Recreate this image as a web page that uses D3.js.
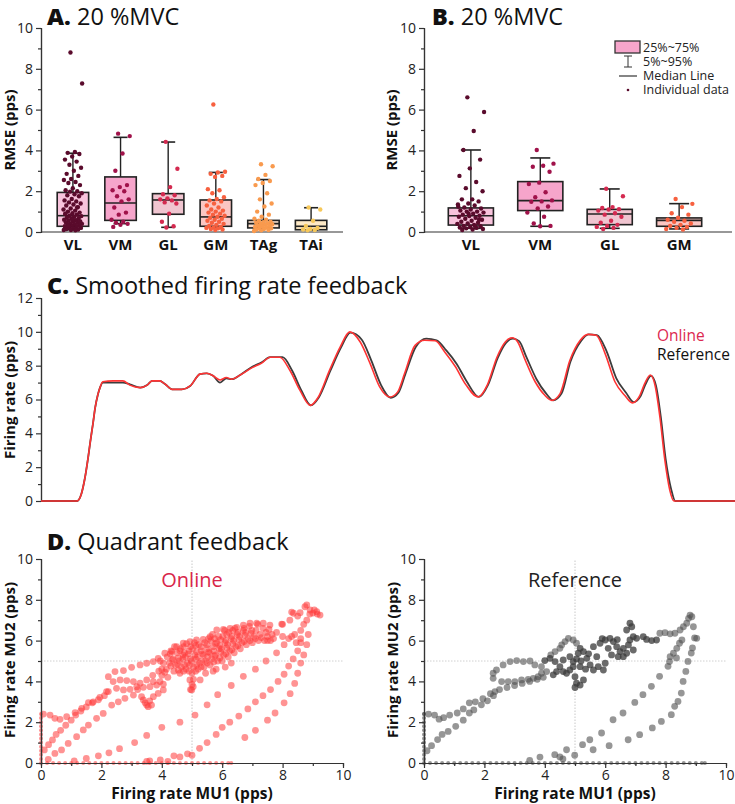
<!DOCTYPE html>
<html><head><meta charset="utf-8">
<script src="https://cdn.jsdelivr.net/npm/d3@7"></script>
<style>
body{margin:0;background:#fff;}
svg text{font-family:"Open Sans",Lato,sans-serif;}
</style></head><body><svg id="c" width="735" height="804"></svg>
<script>
// ---------------- DATA ----------------
const catsA = ["VL","VM","GL","GM","TAg","TAi"];
const lowA  = [0.11,0.41,0.23,0.18,0.2,0.11];
const q1A   = [0.28,0.57,0.87,0.28,0.2,0.11];
const medA  = [0.8,1.42,1.57,0.74,0.41,0.28];
const q3A   = [1.94,2.7,1.88,1.57,0.57,0.57];
const highA = [3.86,4.64,4.41,2.92,2.57,1.19];

const ptsA_VL = [8.8,7.28,3.92,3.88,3.82,3.7,3.55,3.45,3.3,3.15,3.0,2.85,2.75,2.6,2.55,2.45,2.4,2.3,2.15,2.05,2.0,1.98,1.9,1.85,1.8,1.75,1.62,1.55,1.5,1.45,1.4,1.35,1.3,1.22,1.15,1.1,1.05,1.0,0.95,0.92,0.88,0.85,0.8,0.78,0.75,0.7,0.68,0.65,0.6,0.58,0.55,0.52,0.5,0.48,0.45,0.42,0.4,0.38,0.35,0.32,0.3,0.28,0.25,0.22,0.2,0.18,0.15,0.12,0.1,0.1,0.08,0.3,0.5,0.6,0.9,1.2];
const ptsA_VM = [4.82,4.7,3.85,3.0,2.3,2.2,2.05,2.0,1.75,1.6,1.5,1.2,0.95,0.85,0.6,0.5,0.45,0.4,0.35,0.25];
const ptsA_GL = [4.42,3.1,2.2,1.85,1.8,1.65,1.6,1.55,1.45,1.4,0.9,0.5,0.28,0.22];
const ptsA_GM = [6.25,2.95,2.92,2.85,2.75,2.7,2.1,2.05,1.9,1.7,1.62,1.55,1.5,1.4,1.3,1.2,1.1,1.05,1.0,0.95,0.9,0.85,0.8,0.75,0.7,0.65,0.6,0.55,0.5,0.45,0.4,0.35,0.3,0.25,0.22,0.2,0.18,0.15,0.12,0.1];
const ptsA_TAg = [3.32,3.22,2.8,2.6,2.5,2.4,2.3,1.9,1.6,1.4,1.25,1.0,0.85,0.75,0.65,0.6,0.55,0.5,0.48,0.45,0.42,0.4,0.38,0.35,0.32,0.3,0.28,0.25,0.22,0.2,0.18,0.15,0.12,0.1,0.08,0.05];
const ptsA_TAi = [1.2,1.1,0.55,0.3,0.2,0.15,0.12,0.1,0.08];

const catsB = ["VL","VM","GL","GM"];
const lowB  = [0.18,0.28,0.18,0.15];
const q1B   = [0.34,1.05,0.36,0.28];
const medB  = [0.8,1.54,0.88,0.57];
const q3B   = [1.18,2.47,1.11,0.69];
const highB = [4.02,3.63,2.11,1.39];

const ptsB_VL = [6.6,5.88,4.95,4.02,3.55,3.12,2.75,2.45,2.15,2.0,1.6,1.6,1.5,1.4,1.35,1.3,1.2,1.15,1.1,1.05,1.0,1.0,0.95,0.9,0.85,0.8,0.78,0.75,0.7,0.65,0.6,0.55,0.5,0.45,0.42,0.4,0.35,0.3,0.28,0.25,0.22,0.2,0.18,0.15,0.12,0.1,0.6,0.9,1.25,0.3];
const ptsB_VM = [4.02,3.35,3.25,3.2,2.95,2.42,2.35,1.95,1.7,1.55,1.5,1.48,1.25,1.15,0.95,0.75,0.42,0.3,0.28];
const ptsB_GL = [2.12,1.75,1.22,1.18,1.12,1.1,1.05,0.92,0.85,0.75,0.55,0.45,0.35,0.3,0.25,0.2,0.15];
const ptsB_GM = [1.62,1.38,1.22,0.92,0.85,0.7,0.6,0.55,0.5,0.42,0.35,0.3,0.25,0.2,0.15,0.12];

const legendLabels = ["25%~75%","5%~95%","Median Line","Individual data"];

// Panel C: time (s) and smoothed firing rate (pps)
const timeOnline = [0,5.2,5.8,6.3,6.8,7.1,7.5,7.8,8.2,8.5,8.9,10.4,11.8,12.8,14.3,15.3,16.0,17.1,17.9,18.9,20.3,21.5,22.9,23.9,24.8,25.8,26.7,27.5,28.7,30.5,31.8,33.0,34.4,35.9,37.3,38.8,39.9,41.6,43.1,44.5,46.0,47.4,48.8,50.3,51.4,52.4,53.9,55.3,56.8,58.2,59.7,61.1,63.0,64.3,65.7,66.9,67.9,68.7,69.7,71.2,72.6,73.6,74.8,76.2,77.7,78.8,80.0,81.3,82.7,84.1,85.2,86.3,87.0,87.8,88.5,89.2,89.9,90.6,91.2,100];
const rateOnline = [0,0,0.4,1.3,2.6,3.5,4.6,5.5,6.3,6.7,7.05,7.1,7.1,6.85,6.7,6.85,7.1,7.1,6.9,6.6,6.6,6.8,7.5,7.55,7.4,7.15,7.3,7.2,7.45,7.9,8.15,8.5,8.5,7.7,6.55,5.65,6.1,7.75,9.1,10.0,9.4,8.15,6.75,6.15,6.45,7.55,9.2,9.5,9.47,8.8,7.95,6.95,6.15,6.85,8.5,9.4,9.65,9.4,8.4,7.05,6.25,5.95,6.35,8.3,9.5,9.85,9.8,8.7,7.05,6.25,5.8,6.25,6.95,7.45,6.8,4.9,2.4,0.65,0,0];
const timeRef = [0,5.2,5.8,6.3,6.8,7.1,7.5,7.8,8.2,8.5,8.9,10.4,11.8,12.8,14.3,15.3,16.0,17.1,17.9,18.9,20.3,21.5,22.9,23.9,24.8,25.8,26.7,27.5,28.7,30.5,31.8,33.0,34.8,36.2,37.5,38.9,40.0,41.7,43.2,44.6,46.2,47.6,49.0,50.4,51.5,52.5,54.0,55.5,57.0,58.4,59.9,61.3,63.1,64.4,65.8,67.0,68.0,68.9,69.9,71.4,72.8,73.8,75.0,76.3,77.8,78.9,80.1,81.5,82.9,84.3,85.4,86.4,87.1,87.9,88.6,89.3,90.0,90.8,91.4,100];
const rateRef = [0,0,0.4,1.3,2.6,3.5,4.6,5.5,6.3,6.7,7.0,7.0,7.0,6.9,6.7,6.85,7.1,7.1,6.9,6.6,6.6,6.8,7.5,7.55,7.4,7.0,7.25,7.2,7.45,7.95,8.2,8.5,8.5,7.7,6.55,5.65,6.1,7.7,9.05,9.95,9.55,8.3,6.85,6.1,6.4,7.5,9.1,9.6,9.5,8.9,8.1,7.1,6.15,6.85,8.45,9.35,9.6,9.45,8.55,7.2,6.35,5.95,6.35,8.25,9.45,9.85,9.8,8.85,7.25,6.4,5.85,6.2,6.9,7.4,6.85,5.0,2.5,0.7,0,0];

// Panel D: [MU1 rate, MU2 rate]
const onlineAxis = [[0,0],[0,0.2],[0,0.4],[0,0.6],[0,0.8],[0,1.0],[0,1.2],[0,1.4],[0,1.6],[0,1.8],[0,2.0],[0,2.2],[0,2.4],[0.2,0],[0.4,0],[0.6,0],[0.8,0],[1.0,0],[1.2,0],[1.4,0],[1.6,0],[1.8,0],[2.0,0],[2.2,0],[2.4,0],[2.6,0],[2.8,0],[3.0,0],[3.2,0],[3.4,0],[3.6,0],[3.8,0],[4.0,0],[4.2,0],[4.4,0],[4.6,0],[4.8,0],[5.0,0],[5.2,0],[5.4,0],[5.6,0],[5.8,0],[6.0,0],[6.2,0],[6.3,0]];
const onlineUpper = [[0.08,2.4],[0.3,2.35],[0.46,2.19],[0.63,2.14],[0.85,2.27],[1.13,2.47],[1.35,2.68],[1.57,2.96],[1.73,3.0],[1.95,3.22],[2.23,3.5],[2.23,4.23],[2.45,4.48],[2.73,4.53],[3.0,4.69],[3.28,4.81],[3.5,4.89],[3.72,4.97],[3.88,5.13],[4.1,5.38],[4.33,5.46],[4.49,5.7],[4.71,5.87],[4.93,5.95],[5.15,6.03],[5.37,6.06],[5.6,6.19],[5.82,6.52],[6.04,6.55],[6.26,6.6],[6.48,6.65],[6.7,6.76],[6.92,6.85],[7.14,6.85],[7.36,6.85],[7.58,6.76],[7.97,6.81],[8.24,7.0],[8.36,7.34],[8.58,7.37],[8.74,7.66],[8.91,7.5],[9.13,7.42],[9.24,7.25],[8.8,7.75],[9.0,7.35]];
const onlineLower = [[2.39,3.99],[2.62,4.07],[2.84,4.04],[3.06,3.99],[3.28,3.91],[3.5,4.07],[3.72,3.99],[3.94,3.99],[2.5,3.66],[2.73,3.58],[2.95,3.61],[3.17,3.74],[3.39,3.71],[3.61,3.74],[3.83,3.82],[4.05,3.86],[2.17,3.5],[3.39,3.09],[3.5,2.84],[3.55,2.76],[3.72,3.25],[3.88,3.41],[4.05,3.58],[3.33,3.25],[3.66,2.84],[3.45,2.95],[3.6,3.05]];
const onlineCore = [[4.15,4.6],[4.25,4.9],[4.18,5.2],[4.3,5.5],[4.4,4.5],[4.45,4.8],[4.38,5.1],[4.5,5.4],[4.42,5.7],[4.6,4.4],[4.65,4.7],[4.58,5.0],[4.7,5.3],[4.62,5.6],[4.8,4.6],[4.85,4.9],[4.78,5.2],[4.9,5.5],[4.82,5.85],[5.0,4.4],[5.05,4.7],[4.98,5.0],[5.1,5.3],[5.02,5.6],[5.08,5.9],[4.95,3.6],[5.0,3.85],[5.05,4.1],[5.2,4.6],[5.25,4.9],[5.18,5.2],[5.3,5.5],[5.22,5.8],[5.4,4.7],[5.45,5.0],[5.38,5.3],[5.5,5.6],[5.42,5.9],[5.6,4.8],[5.65,5.1],[5.58,5.4],[5.7,5.7],[5.62,6.0],[5.68,6.3],[5.8,4.6],[5.85,5.0],[5.78,5.3],[5.9,5.6],[5.82,5.9],[5.88,6.2],[6.0,5.0],[6.05,5.3],[5.98,5.6],[6.1,5.9],[6.02,6.2],[6.08,6.5],[6.2,5.2],[6.25,5.5],[6.18,5.8],[6.3,6.1],[6.22,6.4],[6.4,5.4],[6.45,5.7],[6.38,6.0],[6.5,6.3],[6.42,6.6],[6.6,5.6],[6.65,5.9],[6.58,6.2],[6.7,6.5],[6.8,5.8],[6.85,6.1],[6.78,6.4],[6.9,6.7],[7.0,5.9],[7.05,6.2],[6.98,6.5],[7.2,6.0],[7.25,6.3],[7.18,6.8],[7.4,6.0],[7.45,6.4],[7.6,6.0],[7.65,6.3],[4.93,4.07],[5.04,3.74],[4.99,3.58],[5.27,4.07],[4.0,4.3],[4.2,4.2],[3.9,4.5],[3.7,4.3],[5.45,4.4],[5.7,4.5],[6.1,4.7],[6.3,4.9]];
const onlineCore2 = [[4.3,4.75],[4.35,5.05],[4.28,5.35],[4.55,4.55],[4.52,4.85],[4.55,5.15],[4.6,5.5],[4.72,4.5],[4.75,4.8],[4.7,5.1],[4.75,5.4],[4.72,5.7],[4.9,4.5],[4.92,4.8],[4.95,5.1],[4.88,5.35],[4.95,5.7],[5.12,4.5],[5.15,4.8],[5.12,5.1],[5.15,5.45],[5.12,5.75],[5.3,4.7],[5.32,5.0],[5.35,5.35],[5.3,5.7],[5.5,4.9],[5.52,5.2],[5.55,5.45],[5.5,5.8],[5.55,6.1],[5.72,4.95],[5.75,5.25],[5.72,5.5],[5.78,5.85],[5.75,6.1],[5.92,5.15],[5.95,5.45],[5.92,5.75],[5.95,6.05],[6.12,5.35],[6.15,5.65],[6.12,6.0],[6.15,6.3],[6.32,5.55],[6.35,5.85],[6.32,6.2],[6.35,6.5],[6.52,5.75],[6.55,6.05],[6.52,6.4],[6.72,5.95],[6.75,6.25],[6.72,6.6],[6.92,6.0],[6.95,6.35],[7.1,6.1],[7.12,6.5],[7.3,6.15],[7.35,6.6],[7.5,6.2],[7.55,6.55],[4.0,4.6],[4.05,4.9],[3.95,5.0],[4.1,4.45]];
const onlineRight = [[7.8,6.4],[8.0,6.2],[8.2,6.1],[8.4,6.3],[8.6,6.5],[8.7,6.8],[8.8,7.0],[8.5,7.2],[8.3,7.4],[8.0,6.8],[8.9,7.3],[9.05,7.5],[9.15,7.3],[8.6,6.1],[8.45,5.9],[7.7,6.1],[7.5,6.0]];
const onlineDiag = [[0.11,0.64],[0.25,0.9],[0.38,1.13],[0.5,1.4],[0.65,1.6],[0.82,1.85],[1.0,2.1],[1.15,2.35],[1.32,2.55],[1.5,2.75],[1.7,2.95],[1.9,3.1],[2.1,3.3],[0.24,0.18],[0.46,0.47],[0.68,0.64],[0.9,0.96],[1.18,1.29],[1.4,1.62],[1.57,1.86],[1.84,2.19],[2.06,2.43],[2.34,2.84],[2.56,3.0],[2.78,3.17],[3.06,3.33],[3.2,3.6]];
const onlineCurves = [[1.1,0.1],[1.5,0.22],[1.9,0.35],[2.25,0.5],[2.6,0.7],[3.1,1.0],[3.5,1.35],[4.0,1.75],[4.6,2.0],[5.1,2.35],[5.5,2.85],[5.85,3.35],[6.3,3.8],[6.7,4.25],[7.1,4.6],[7.45,5.0],[7.8,5.4],[8.05,5.8],[8.3,6.2],[3.6,0.1],[4.4,0.35],[4.85,0.45],[5.25,0.72],[5.5,1.0],[5.8,1.4],[6.0,1.75],[6.25,2.0],[6.55,2.3],[6.85,2.65],[7.1,3.0],[7.35,3.3],[7.6,3.6],[7.85,4.0],[8.05,4.35],[8.2,4.75],[8.35,5.1],[8.5,5.5],[8.6,5.9],[6.75,1.25],[7.1,1.6],[7.5,2.1],[7.75,2.45],[8.05,2.95],[8.25,3.4],[8.4,3.9],[8.5,4.4],[8.6,4.9],[8.7,5.3],[8.8,5.8],[8.85,6.3],[3.95,0.15],[4.2,0.08],[4.6,0.3],[5.0,0.38],[3.5,0.08]];

const refAxis = [[0,0],[0,0.2],[0,0.4],[0,0.6],[0,0.8],[0,1.0],[0,1.2],[0,1.4],[0,1.6],[0,1.8],[0,2.0],[0,2.2],[0,2.4],[0.2,0],[0.4,0],[0.6,0],[0.8,0],[1.0,0],[1.2,0],[1.4,0],[1.6,0],[1.8,0],[2.0,0],[2.2,0],[2.4,0],[2.6,0],[2.8,0],[3.0,0],[3.2,0],[3.4,0],[3.6,0],[3.8,0],[4.0,0],[4.2,0],[4.4,0],[4.6,0],[4.8,0],[5.0,0],[5.2,0],[5.4,0],[5.6,0],[5.8,0],[6.0,0],[6.2,0],[6.4,0],[6.6,0],[6.8,0],[7.0,0],[7.2,0],[7.4,0],[7.6,0],[7.8,0],[8.0,0],[8.2,0],[8.4,0],[8.6,0],[8.8,0],[9.0,0],[9.2,0],[9.3,0]];
const refStart = [[0,2.4],[0.15,2.4],[0.35,2.35],[0.5,2.15],[0.65,2.22],[0.85,2.35],[1.1,2.45],[1.3,2.65],[1.5,2.95],[1.7,3.0],[1.95,3.15],[2.2,3.4],[2.35,3.5],[2.5,3.6],[2.75,3.7],[3.0,3.8],[3.25,3.9],[3.5,4.0],[3.75,4.1],[3.95,4.2],[0.1,0.6],[0.25,0.85],[0.45,1.15],[0.6,1.4],[0.8,1.55],[1.05,1.8],[1.3,2.1],[1.5,2.45],[1.65,2.6],[1.9,2.85],[2.1,3.05],[2.3,3.3]];
const refLoop = [[2.29,4.4],[2.4,4.56],[2.62,4.81],[2.85,4.97],[3.07,5.02],[3.29,4.97],[3.51,5.0],[3.67,4.81],[3.89,4.72],[4.56,5.79],[4.67,5.95],[4.78,6.11],[4.94,6.03],[5.05,5.87],[4.5,5.62],[4.34,5.46],[4.2,5.3],[2.29,4.15],[2.57,3.99],[2.79,3.99],[3.01,3.99],[3.23,4.07],[3.45,4.1],[3.62,4.15],[3.78,4.23],[3.89,4.4],[4.06,4.48]];
const refDark = [[4.0,5.02],[4.17,5.13],[4.34,4.97],[4.5,4.72],[4.61,4.48],[4.72,4.4],[4.83,4.56],[4.94,4.72],[5.11,5.38],[5.17,5.62],[5.28,5.46],[5.39,5.13],[5.5,4.81],[5.61,4.56],[5.77,4.72],[5.94,4.56],[6.0,4.89],[5.72,5.21],[5.61,5.7],[5.83,5.87],[6.0,6.03],[6.16,6.11],[6.27,5.95],[6.38,5.7],[6.49,5.46],[6.6,5.62],[6.77,5.79],[6.82,6.03],[6.93,6.19],[7.04,6.11],[7.26,6.19],[7.37,6.06],[7.54,6.0],[7.7,6.03],[6.71,6.52],[6.82,6.85],[6.88,6.68],[6.1,5.62],[6.21,5.3],[6.43,5.21],[6.6,5.21],[6.71,5.38],[6.93,5.54],[5.17,4.72],[5.0,4.23],[5.05,3.91],[5.17,3.82],[5.28,4.07],[4.94,4.97],[4.83,5.21],[4.61,5.05],[4.39,4.48],[4.28,4.32],[5.0,3.7],[5.05,5.1],[5.2,5.0],[5.35,4.6],[5.45,5.35],[5.9,6.1],[6.4,6.05]];
const refRight = [[7.81,6.36],[7.98,6.39],[8.15,6.33],[8.31,6.36],[8.48,6.52],[8.59,6.68],[8.7,6.85],[8.81,7.25],[8.87,7.17],[8.76,7.09],[8.92,6.68],[9.03,6.11],[8.54,6.03],[8.46,5.87],[8.37,5.62],[8.26,5.38],[8.15,5.21],[8.13,4.97]];
const refCurves = [[8.96,6.13],[8.89,5.64],[8.85,5.39],[8.74,4.98],[8.67,4.49],[8.58,4.0],[8.52,3.43],[8.41,3.02],[8.3,2.78],[8.19,2.37],[7.86,2.04],[7.56,1.72],[7.14,1.39],[6.76,1.14],[6.13,0.85],[5.6,0.65],[4.99,0.38],[8.36,5.15],[8.08,4.74],[7.8,4.25],[7.53,3.76],[7.25,3.35],[6.98,2.97],[6.59,2.45],[6.26,2.12],[5.88,1.47],[5.49,1.14],[5.25,0.9],[4.72,0.65],[4.33,0.41],[3.84,0.29],[3.5,0.13],[4.5,0.3],[4.6,0.2]];

// ---------------- DRAW ----------------
const svg = d3.select("#c");
const FONT = '"Open Sans",Lato,sans-serif';

function title(x, y, bold, rest){
  const t = svg.append("text").attr("x",x).attr("y",y).attr("font-size",23.5).attr("fill","#111");
  t.append("tspan").attr("font-weight",800).text(bold);
  t.append("tspan").attr("font-weight",400).text(rest);
}
function styleAxis(g){
  g.selectAll(".domain").attr("stroke","#333").attr("stroke-width",1.2);
  g.selectAll(".tick line").attr("stroke","#333").attr("stroke-width",1.2);
  g.selectAll(".tick text").attr("font-size",14).attr("fill","#222").attr("font-family",FONT);
}
function yAxisWithMinor(x, scale, maxV){
  const major = d3.range(0, maxV+1, 2), minor = d3.range(1, maxV, 2);
  const gm = svg.append("g").attr("transform",`translate(${x},0)`)
    .call(d3.axisLeft(scale).tickValues(minor).tickSize(3).tickFormat(""));
  styleAxis(gm);
  const g = svg.append("g").attr("transform",`translate(${x},0)`)
    .call(d3.axisLeft(scale).tickValues(major).tickSize(5).tickPadding(3).tickSizeOuter(0));
  styleAxis(g);
}
function rotLabel(x, y, txt){
  svg.append("text").attr("transform",`translate(${x},${y}) rotate(-90)`).attr("text-anchor","middle")
    .attr("font-size",15).attr("font-weight",700).attr("fill","#111").text(txt);
}

const boxFill = ["#f8c3dc","#f6a5cb","#f0c5d0","#fbc6c3","#fde0cc","#fde9c6"];
const ptCol   = ["#5a0b2c","#a0124a","#d42a50","#f7603f","#f99a4e","#f6c85a"];

function drawBoxes(x0, x1, axisEnd, cats, low, q1, med, q3, high, pts, pad, cap, spread, labX){
  const y = d3.scaleLinear().domain([0,10]).range([232,28]);
  const xb = d3.scaleBand().domain(cats).range([x0, x1]).padding(pad);
  yAxisWithMinor(x0, y, 10);
  svg.append("line").attr("x1",x0).attr("x2",axisEnd).attr("y1",232).attr("y2",232).attr("stroke","#333").attr("stroke-width",1.2);
  cats.forEach((c,i)=>{
    const cx = xb(c) + xb.bandwidth()/2, w = xb.bandwidth();
    const g = svg.append("g");
    g.append("line").attr("x1",cx).attr("x2",cx).attr("y1",y(low[i])).attr("y2",y(high[i])).attr("stroke","#222").attr("stroke-width",1.4);
    [low[i],high[i]].forEach(v=>g.append("line").attr("x1",cx-cap/2).attr("x2",cx+cap/2).attr("y1",y(v)).attr("y2",y(v)).attr("stroke","#222").attr("stroke-width",1.6));
    g.append("rect").attr("x",cx-w/2).attr("y",y(q3[i])).attr("width",w).attr("height",y(q1[i])-y(q3[i]))
      .attr("fill",boxFill[i]).attr("stroke","#222").attr("stroke-width",1.6);
    g.append("line").attr("x1",cx-w/2).attr("x2",cx+w/2).attr("y1",y(med[i])).attr("y2",y(med[i])).attr("stroke","#222").attr("stroke-width",1.6);
    g.append("g").selectAll("circle").data(pts[i]).join("circle")
      .attr("cx",(d,j)=>cx + ((((j*0.6180339)+0.37)%1)-0.5)*w*spread)
      .attr("cy",d=>y(d)).attr("r",2.2).attr("fill",ptCol[i]);
    svg.append("text").attr("x",cx).attr("y",250).attr("text-anchor","middle").attr("font-size",15)
      .attr("font-weight",700).attr("fill","#111").text(c);
  });
  rotLabel(labX, 130, "RMSE (pps)");
}

// Panel A
title(47, 25, "A.", " 20 %MVC");
drawBoxes(41, 343, 343, catsA, lowA, q1A, medA, q3A, highA, [ptsA_VL,ptsA_VM,ptsA_GL,ptsA_GM,ptsA_TAg,ptsA_TAi], 0.34, 14, 0.6, 15);
// Panel B
title(432, 25, "B.", " 20 %MVC");
drawBoxes(424, 726, 732, catsB, lowB, q1B, medB, q3B, highB, [ptsB_VL,ptsB_VM,ptsB_GL,ptsB_GM], 0.35, 20, 0.6, 397);
(function(){
  const lg = svg.append("g").attr("font-size",12.5).attr("fill","#222");
  lg.append("rect").attr("x",615).attr("y",41).attr("width",25).attr("height",12).attr("fill","#f6a5cb").attr("stroke","#333").attr("stroke-width",1.3);
  lg.append("line").attr("x1",628).attr("x2",628).attr("y1",56).attr("y2",67).attr("stroke","#333");
  lg.append("line").attr("x1",624).attr("x2",632).attr("y1",56).attr("y2",56).attr("stroke","#333");
  lg.append("line").attr("x1",624).attr("x2",632).attr("y1",67).attr("y2",67).attr("stroke","#333");
  lg.append("line").attr("x1",619).attr("x2",637).attr("y1",76).attr("y2",76).attr("stroke","#333").attr("stroke-width",1.2);
  lg.append("circle").attr("cx",628).attr("cy",90).attr("r",1.3).attr("fill","#5a0b2c");
  const ly=[52,66,80,94];
  legendLabels.forEach((t,i)=>lg.append("text").attr("x",643).attr("y",ly[i]).text(t));
})();

// Panel C
title(47, 294, "C.", " Smoothed firing rate feedback");
(function(){
  const x = d3.scaleLinear().domain([0,100]).range([41,735]);
  const y = d3.scaleLinear().domain([0,12]).range([501,298]);
  yAxisWithMinor(41, y, 12);
  rotLabel(15, 400, "Firing rate (pps)");
  svg.append("path").attr("d",d3.line().x((d,i)=>x(timeRef[i])).y(d=>y(d)).curve(d3.curveMonotoneX)(rateRef))
    .attr("fill","none").attr("stroke","#3c3c3c").attr("stroke-width",1.8);
  svg.append("path").attr("d",d3.line().x((d,i)=>x(timeOnline[i])).y(d=>y(d)).curve(d3.curveMonotoneX)(rateOnline))
    .attr("fill","none").attr("stroke","#ff3434").attr("stroke-width",1.6);
  svg.append("text").attr("x",657).attr("y",341).attr("font-size",15.5).attr("fill","#dc2850").text("Online");
  svg.append("text").attr("x",657).attr("y",360).attr("font-size",15.5).attr("fill","#111").text("Reference");
})();

// Panel D
title(47, 550, "D.", " Quadrant feedback");
function quad(x0, x1, label, labelColor, groups, fill, op){
  const x = d3.scaleLinear().domain([0,10]).range([x0,x1]);
  const y = d3.scaleLinear().domain([0,10]).range([763,559]);
  svg.append("line").attr("x1",x(5)).attr("x2",x(5)).attr("y1",y(0)).attr("y2",y(10)).attr("stroke","#c8c8c8").attr("stroke-dasharray","1.5,1.5");
  svg.append("line").attr("x1",x(0)).attr("x2",x(10)).attr("y1",y(5)).attr("y2",y(5)).attr("stroke","#d0d0d0").attr("stroke-dasharray","1.5,1.5");
  const all = [].concat(...groups);
  svg.append("g").selectAll("circle").data(all).join("circle")
    .attr("cx",d=>x(d[0])).attr("cy",d=>y(d[1])).attr("r",d=>(d[0]===0||d[1]===0)?2:3.4)
    .attr("fill",fill).attr("fill-opacity",op);
  const gxm = svg.append("g").attr("transform","translate(0,763)").call(d3.axisBottom(x).tickValues(d3.range(1,10,2)).tickSize(3).tickFormat(""));
  styleAxis(gxm);
  const gx = svg.append("g").attr("transform","translate(0,763)").call(d3.axisBottom(x).tickValues(d3.range(0,11,2)).tickSize(5).tickPadding(2).tickSizeOuter(0));
  styleAxis(gx);
  yAxisWithMinor(x0, y, 10);
  svg.append("text").attr("x",(x0+x1)/2).attr("y",799).attr("text-anchor","middle").attr("font-size",15.5)
    .attr("font-weight",700).attr("fill","#111").text("Firing rate MU1 (pps)");
  rotLabel(x0-26, 660, "Firing rate MU2 (pps)");
  svg.append("text").attr("x",x(5)).attr("y",587).attr("text-anchor","middle").attr("font-size",20)
    .attr("fill",labelColor).text(label);
  return {x,y};
}
quad(41, 343, "Online", "#d8264a", [onlineAxis,onlineDiag,onlineCurves,onlineLower,onlineUpper,onlineCore,onlineCore2,onlineRight], "#ff3a3a", 0.55);
const sR = quad(424, 726, "Reference", "#222", [refAxis,refStart,refLoop,refCurves,refRight], "#505050", 0.6);
svg.append("g").selectAll("circle").data(refDark).join("circle")
  .attr("cx",d=>sR.x(d[0])).attr("cy",d=>sR.y(d[1])).attr("r",3.4).attr("fill","#3a3a3a").attr("fill-opacity",0.75);
</script></body></html>
